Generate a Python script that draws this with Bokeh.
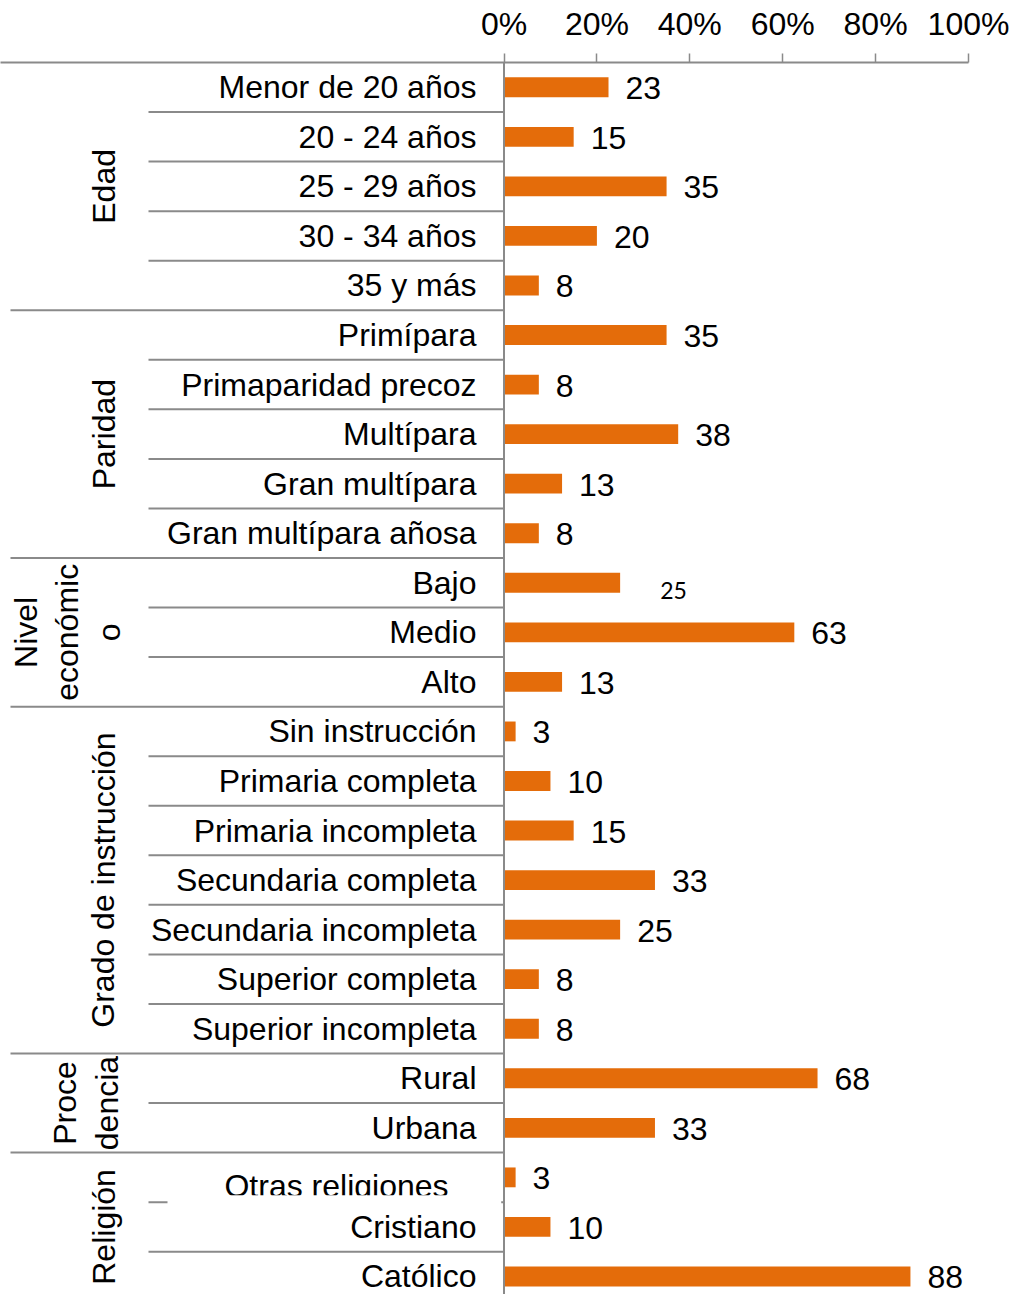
from bokeh.plotting import figure
from bokeh.models import Range1d, FixedTicker, Span
from bokeh.core.properties import value
from bokeh.embed import file_html
from bokeh.resources import INLINE

# ---------------- data ----------------
groups = ["Edad", "Paridad", "Nivel\neconómic\no", "Grado de instrucción", "Proce\ndencia", "Religión"]
group_sizes = [5, 5, 3, 7, 2, 3]
categories = [
    "Menor de 20 años", "20 - 24 años", "25 - 29 años", "30 - 34 años", "35 y más",
    "Primípara", "Primaparidad precoz", "Multípara", "Gran multípara", "Gran multípara añosa",
    "Bajo", "Medio", "Alto",
    "Sin instrucción", "Primaria completa", "Primaria incompleta", "Secundaria completa",
    "Secundaria incompleta", "Superior completa", "Superior incompleta",
    "Rural", "Urbana",
    "Otras religiones", "Cristiano", "Católico",
]
# bar lengths (percent) as drawn
values = [22.5, 15, 35, 20, 7.5,
          35, 7.5, 37.5, 12.5, 7.5,
          25, 62.5, 12.5,
          2.5, 10, 15, 32.5, 25, 7.5, 7.5,
          67.5, 32.5,
          2.5, 10, 87.5]
# data labels as printed
value_labels = ["23", "15", "35", "20", "8",
                "35", "8", "38", "13", "8",
                "25", "63", "13",
                "3", "10", "15", "33", "25", "8", "8",
                "68", "33",
                "3", "10", "88"]
ticks = [0, 20, 40, 60, 80, 100]
tick_labels = ["0%", "20%", "40%", "60%", "80%", "100%"]

# ---------------- geometry ----------------
W, H = 1014, 1294
BL, BR, BT, BB = 0, 46, 62, 0
frame_w = W - BL - BR
frame_h = H - BT - BB
PX = 4.645                     # px per percentage unit
ROW = 49.55                    # px per row
x_start = 100 - frame_w / PX
y_rows = frame_h / ROW

def xpx(px):
    return x_start + px / PX

FONT = "Liberation Sans"
FS = "32px"
ORANGE = "#E46C0A"
GRAY = "#8A8A8A"

p = figure(width=W, height=H, output_backend="svg", toolbar_location=None,
           x_range=Range1d(x_start, 100), y_range=Range1d(y_rows, 0),
           x_axis_location="above", y_axis_location=None,
           min_border_left=BL, min_border_right=BR, min_border_top=BT, min_border_bottom=BB)
p.outline_line_color = None
p.grid.visible = False
p.background_fill_color = "white"

ax = p.xaxis[0]
ax.ticker = FixedTicker(ticks=ticks)
ax.major_label_overrides = {t: l for t, l in zip(ticks, tick_labels)}
ax.major_label_text_font = FONT
ax.major_label_text_font_size = FS
ax.major_label_text_color = "black"
ax.axis_line_color = GRAY
ax.axis_line_width = 2
ax.major_tick_line_color = GRAY
ax.major_tick_line_width = 1.5
ax.major_tick_in = 0
ax.major_tick_out = 9
ax.minor_tick_line_color = None
ax.major_label_standoff = 12

centers = [i + 0.5 for i in range(len(categories))]

# vertical spine at 0
p.add_layout(Span(location=0, dimension="height", line_color=GRAY, line_width=2))

# separators
seg_x0, seg_y, seg_x1 = [], [], []
row = 0
for gi, n in enumerate(group_sizes):
    for k in range(n):
        if row > 0:
            seg_x0.append(xpx(10) if k == 0 else xpx(148))
            seg_y.append(row)
            seg_x1.append(0)
        row += 1
p.segment(x0=seg_x0, y0=seg_y, x1=seg_x1, y1=seg_y, line_color=GRAY, line_width=2)

# bars
p.hbar(y=centers, left=0, right=values, height=0.4, fill_color=ORANGE, line_color=None)

# category labels (the "Otras religiones" label is drawn separately, as in the original)
i_otras = categories.index("Otras religiones")
norm_idx = [i for i in range(len(categories)) if i != i_otras]
p.text(x=[xpx(476)] * len(norm_idx), y=[centers[i] for i in norm_idx],
       text=[categories[i] for i in norm_idx],
       text_align="right", text_baseline="middle",
       text_font=value(FONT), text_font_size=FS, text_color="black")
p.text(x=[xpx(336)], y=[centers[i_otras]], text=[categories[i_otras]], y_offset=9,
       text_align="center", text_baseline="middle",
       text_font=value(FONT), text_font_size=FS, text_color="black")
# white mask that clips the bottom of that label in the original
p.quad(left=[xpx(167)], right=[-0.6], bottom=[i_otras + 1 + 8 / ROW], top=[i_otras + 1 - 7 / ROW],
       fill_color="white", line_color=None)

# value labels
i_bajo = categories.index("Bajo")
v_idx = [i for i in range(len(values)) if i != i_bajo]
p.text(x=[values[i] for i in v_idx], y=[centers[i] for i in v_idx],
       text=[value_labels[i] for i in v_idx], x_offset=17, y_offset=1,
       text_align="left", text_baseline="middle",
       text_font=value(FONT), text_font_size=FS, text_color="black")
p.text(x=[values[i_bajo]], y=[centers[i_bajo]], text=[value_labels[i_bajo]],
       x_offset=40, y_offset=8, text_align="left", text_baseline="middle",
       text_font=value("Lato"), text_font_size="23px", text_color="black")

# group labels
gx = [xpx(103), xpx(103), xpx(67), xpx(103), xpx(85.5), xpx(103)]
gy = []
start = 0
for n in group_sizes:
    gy.append(start + n / 2)
    start += n
p.text(x=gx, y=gy, text=groups, angle=1.5707963, text_align="center", text_baseline="middle",
       text_font=value(FONT), text_font_size=FS, text_color="black", text_line_height=1.15)

open("out.html", "w").write(file_html(p, INLINE))
